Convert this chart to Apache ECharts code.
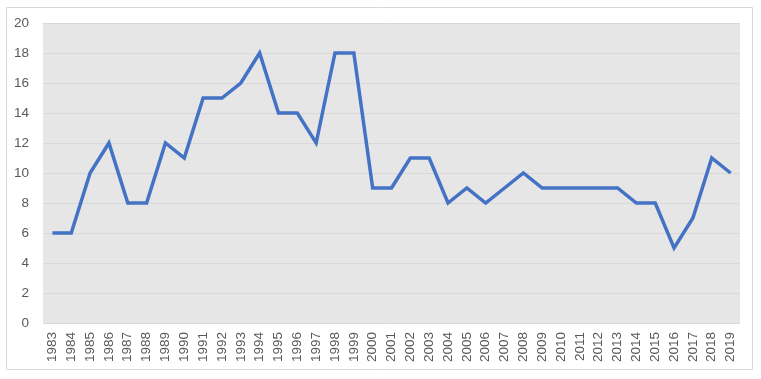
<!DOCTYPE html>
<html><head><meta charset="utf-8">
<script src="https://cdn.jsdelivr.net/npm/echarts@6/dist/echarts.min.js"></script>
<style>html,body{margin:0;padding:0;background:#fff}#c{width:761px;height:379px}</style>
</head><body><div id="c"></div>
<script>
const years = ["1983","1984","1985","1986","1987","1988","1989","1990","1991","1992","1993","1994","1995","1996","1997","1998","1999","2000","2001","2002","2003","2004","2005","2006","2007","2008","2009","2010","2011","2012","2013","2014","2015","2016","2017","2018","2019"];
const values = [6,6,10,12,8,8,12,11,15,15,16,18,14,14,12,18,18,9,9,11,11,8,9,8,9,10,9,9,9,9,9,8,8,5,7,11,10];
const yTicks = [0,2,4,6,8,10,12,14,16,18,20];

const chart = echarts.init(document.getElementById('c'));
chart.setOption({
  animation: false,
  graphic: [{type:'rect', shape:{x:6.5,y:7.5,width:746,height:362}, style:{fill:'none', stroke:'#d9d9d9', lineWidth:1}, z:-10}],
  grid: {left:43, right:21, top:23, bottom:56, show:true, backgroundColor:'#e7e6e6', borderWidth:0},
  xAxis: {type:'category', data: years, boundaryGap:true,
    axisLine:{show:false}, axisTick:{show:false},
    axisLabel:{rotate:90, color:'#595959', fontSize:13.5, fontFamily:'Liberation Sans, Arial, sans-serif', margin:9, interval:0}},
  yAxis: {type:'value', min:yTicks[0], max:yTicks[yTicks.length-1], interval:2,
    axisLine:{show:false}, axisTick:{show:false},
    axisLabel:{color:'#595959', fontSize:13.5, fontFamily:'Liberation Sans, Arial, sans-serif', margin:14},
    splitLine:{lineStyle:{color:'#d9d9d9', width:1}}},
  series: [{type:'line', data: values, showSymbol:false, symbol:'none',
    lineStyle:{color:'#4472c4', width:3.5, join:'miter'}}]
});
</script></body></html>
